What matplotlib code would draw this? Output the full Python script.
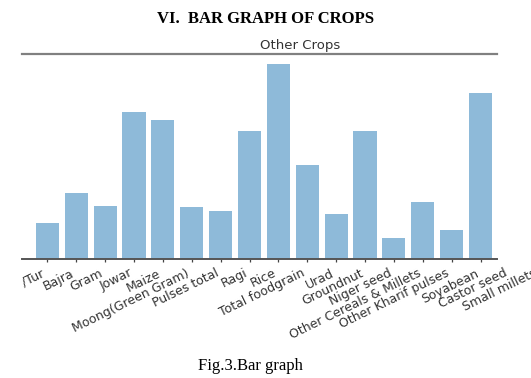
import matplotlib
matplotlib.use("Agg")
import matplotlib.pyplot as plt
import matplotlib.transforms as mtransforms

# ---- data ----
crops = ["Arhar/Tur", "Bajra", "Gram", "Jowar", "Maize", "Moong(Green Gram)",
         "Pulses total", "Ragi", "Rice", "Total foodgrain", "Urad", "Groundnut",
         "Niger seed", "Other Cereals & Millets", "Other Kharif pulses", "Soyabean"]
values = [107, 197, 158, 440, 416, 156, 144, 383, 584, 282, 136, 383, 64, 170, 86, 497]
# labels of further categories whose bars lie outside the visible crop
extra_labels = ["Castor seed", "Small millets"]

W, H = 531, 378
fig = plt.figure(figsize=(W / 100, H / 100), dpi=100)
fig.patch.set_facecolor("white")

ax = fig.add_axes([22 / W, 1 - 259 / H, (497 - 22) / W, (259 - 54) / H])
x = list(range(len(crops)))
ax.bar(x, values, width=0.8, color="#1f77b4", alpha=0.5, linewidth=0)
ax.set_xlim(-0.88, 15.57)
ax.set_ylim(0, 614)

for s in ["left", "right"]:
    ax.spines[s].set_visible(False)
ax.spines["top"].set_color("#808080")
ax.spines["top"].set_linewidth(1.6)
ax.spines["bottom"].set_color("#555555")
ax.spines["bottom"].set_linewidth(1.4)
ax.set_yticks([])

tick_len = 2.5
tick_pad = 3.0
ax.set_xticks(x)
ax.set_xticklabels(crops, rotation=26, ha="right", fontsize=9,
                   color="#333333", family="DejaVu Sans")
ax.tick_params(axis="x", length=tick_len, width=0.9, color="#444444",
               pad=tick_pad, direction="out")

# the reference image is a crop of a wider chart: clip label text to it
clip = mtransforms.TransformedBbox(
    mtransforms.Bbox.from_extents(22 / W, 0, 1, 1), fig.transFigure)
for lab in ax.get_xticklabels():
    lab.set_clip_box(clip)
    lab.set_clip_on(True)

# labels of categories beyond the crop, placed like tick labels
trans = mtransforms.blended_transform_factory(ax.transData, ax.transAxes)
for j, lab in enumerate(extra_labels):
    t = ax.annotate(lab, xy=(len(crops) + j, 0), xycoords=trans,
                    xytext=(0, -(tick_len + tick_pad)), textcoords="offset points",
                    rotation=26, ha="right", va="top", fontsize=9,
                    color="#333333", family="DejaVu Sans", annotation_clip=False)
    t.set_clip_box(clip)
    t.set_clip_on(True)

ax.set_title("Other Crops", x=(300 - 22) / (497 - 22), pad=3.6,
             fontsize=9.5, color="#333333", family="DejaVu Sans")

fig.text(266 / W, 1 - 23 / H, "VI.  BAR GRAPH OF CROPS", ha="center",
         va="baseline", fontsize=12, fontweight="bold", family="Liberation Serif",
         color="black")
fig.text(250 / W, 1 - 370 / H, "Fig.3.Bar graph", ha="center", va="baseline",
         fontsize=12, family="Liberation Serif", color="black")

fig.savefig("out.png", dpi=100, facecolor="white")
